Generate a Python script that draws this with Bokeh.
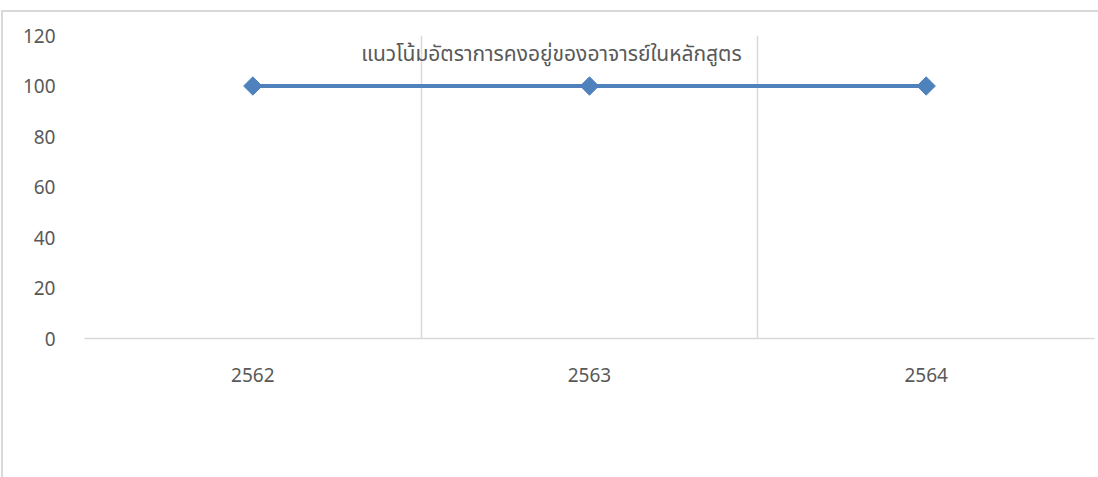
from bokeh.plotting import figure
from bokeh.models import FixedTicker, Label, Range1d
from bokeh.embed import file_html
from bokeh.resources import INLINE

years = ["2562", "2563", "2564"]
retention = [100, 100, 100]
title_text = "แนวโน้มอัตราการคงอยู่ของอาจารย์ในหลักสูตร"
y_ticks = [0, 20, 40, 60, 80, 100, 120]

xs = list(range(1, len(years) + 1))
GRAY = "#d9d9d9"
TXT = "#595959"
FONT = "Noto Sans, Noto Sans Thai, sans-serif"

OX, OY = 3, 12            # canvas offset inside the outer chart border
W, H = 1098 - OX, 477 - OY
FL, FR, FT, FB = 84 - OX, 1092 - OX, 35 - OY, 336 - OY  # frame edges in canvas pixels

p = figure(width=W, height=H, output_backend="svg", toolbar_location=None,
           x_range=Range1d(0.5, len(years) + 0.5), y_range=Range1d(0, 120),
           min_border_left=FL, min_border_right=W - FR, min_border_top=FT,
           min_border_bottom=H - FB)
p.outline_line_color = None
p.background_fill_color = "white"
p.border_fill_color = "white"
p.margin = (OY - 2, 0, 0, OX - 2)
p.styles = {"border-top": "2px solid #d9d9d9", "border-left": "2px solid #d9d9d9",
            "box-sizing": "content-box"}

# axes
p.xaxis.ticker = FixedTicker(ticks=xs)
p.xaxis.major_label_overrides = {x: y for x, y in zip(xs, years)}
p.xaxis.axis_line_color = GRAY
p.xaxis.axis_line_width = 1.5
p.xaxis.major_tick_line_color = None
p.xaxis.minor_tick_line_color = None
p.xaxis.major_label_text_font_size = "19px"
p.xaxis.major_label_text_color = TXT
p.xaxis.major_label_text_font = FONT
p.xaxis.major_label_standoff = 23

p.yaxis.ticker = FixedTicker(ticks=y_ticks)
p.yaxis.axis_line_color = None
p.yaxis.major_tick_line_color = None
p.yaxis.minor_tick_line_color = None
p.yaxis.major_label_text_font_size = "19px"
p.yaxis.major_label_text_color = TXT
p.yaxis.major_label_text_font = FONT
p.yaxis.major_label_standoff = 23

# grids
p.ygrid.grid_line_color = None
p.xgrid.ticker = FixedTicker(ticks=[x - 0.5 for x in xs] + [len(xs) + 0.5])
p.xgrid.grid_line_color = GRAY
p.xgrid.grid_line_width = 1.5

# data
p.line(xs, retention, line_color="#4f81bd", line_width=4)
p.scatter(xs, retention, marker="square", angle=0.785398, size=13,
          fill_color="#4f81bd", line_color="#4f81bd")

# title inside plot area
p.add_layout(Label(x=1.887, y=113.2, text=title_text, text_align="center",
                   text_baseline="middle", text_font=FONT, text_font_size="21px",
                   text_font_style="normal", text_color=TXT))

open("out.html", "w").write(file_html(p, INLINE))
